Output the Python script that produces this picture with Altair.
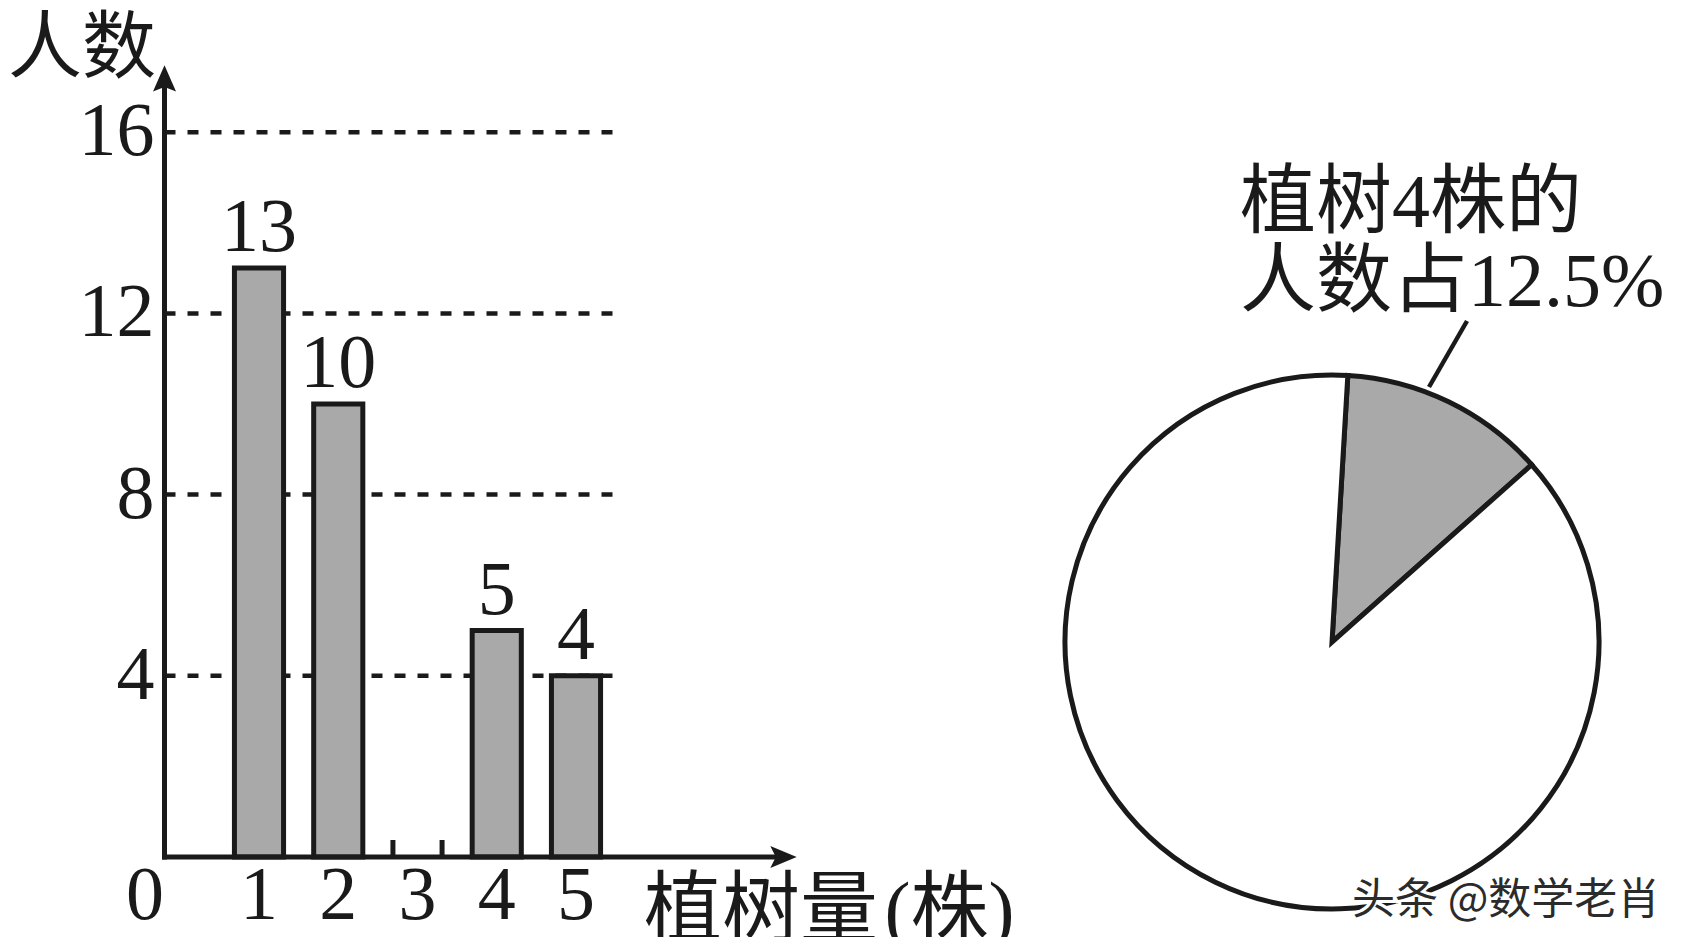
import math
import altair as alt
import pandas as pd

# ---------------- data ----------------
trees = [1, 2, 3, 4, 5]            # 植树量(株)
people = [13, 10, 0, 5, 4]         # 人数
tick_values = [4, 8, 12, 16]
tick_labels = ["1", "2", "3", "4", "5"]
origin_label = "0"
y_title = "人数"
x_title = "植树量\u200a(株)"
pie_parts = ["植树4株", "其他"]
pie_share = [12.5, 87.5]
pie_note = "植树4株的\n人数占12.5%"
watermark = "头条 @数学老肖"

# ---------------- style / layout ----------------
INK = "#1a1a1a"
GRAY = "#a9a9a9"
W, H = 1670, 929
X0, XU = 171.75, 79.25      # pixel of x=0, pixels per unit
Y0, YU = 849.0, 45.3        # pixel of y=0, pixels per unit
X_SCALE = alt.Scale(domain=[-X0 / XU, (W - X0) / XU], nice=False, zero=False)
Y_SCALE = alt.Scale(domain=[(Y0 - H) / YU, Y0 / YU], nice=False, zero=False)
AX = -0.1924        # position of the vertical axis (x units)
X_TIP = 7.785       # end of horizontal axis arrow (x units)
Y_TIP = 17.48       # end of vertical axis arrow (y units)
HW = 0.31           # half bar width
STUB = 0.375        # height of empty-bar stubs
GRID_END = 5.55
SERIF = "Liberation Serif"
MIXED = "Liberation Serif, Noto Sans CJK SC"
CJK = "Noto Sans CJK SC"
START = math.radians(3.4)


def X(f):
    return alt.X(f, scale=X_SCALE, axis=None)


def Y(f):
    return alt.Y(f, scale=Y_SCALE, axis=None)


bars_df = pd.DataFrame({"tree": trees, "people": people})
bars_df["lo"] = bars_df["tree"] - HW
bars_df["hi"] = bars_df["tree"] + HW
bars_df["zero"] = 0.0

stub_rows = []
for t, p in zip(trees, people):
    if p == 0:
        stub_rows.append({"x": t - HW, "y0": 0.0, "y1": STUB})
        stub_rows.append({"x": t + HW, "y0": 0.0, "y1": STUB})
stubs_df = pd.DataFrame(stub_rows)

grid = alt.Chart(pd.DataFrame({"tick": tick_values, "x0": AX, "x1": GRID_END})).mark_rule(
    color=INK, strokeWidth=4.5, strokeDash=[11, 12]
).encode(x=X("x0:Q"), x2="x1:Q", y=Y("tick:Q"))

bars = alt.Chart(bars_df).transform_filter("datum.people > 0").mark_rect(
    fill=GRAY, stroke=INK, strokeWidth=5
).encode(x=X("lo:Q"), x2="hi:Q", y=Y("people:Q"), y2="zero:Q")

stubs = alt.Chart(stubs_df).mark_rule(color=INK, strokeWidth=5).encode(
    x=X("x:Q"), y=Y("y0:Q"), y2="y1:Q"
)

axes = alt.Chart(pd.DataFrame({
    "x": [AX, AX], "x2": [AX, X_TIP - 0.15], "y": [0.0, 0.0], "y2": [Y_TIP - 0.3, 0.0]
})).mark_rule(color=INK, strokeWidth=5, strokeCap="square").encode(
    x=X("x:Q"), x2="x2:Q", y=Y("y:Q"), y2="y2:Q"
)

arrow_up = alt.Chart(pd.DataFrame({"x": [AX], "y": [Y_TIP]})).mark_point(
    shape="M0,0L-1,2.3L0,1.9L1,2.3Z", filled=True, size=529, color=INK, opacity=1, strokeWidth=0
).encode(x=X("x:Q"), y=Y("y:Q"))

arrow_right = alt.Chart(pd.DataFrame({"x": [X_TIP], "y": [0.0]})).mark_point(
    shape="M0,0L-2.4,-1L-1.9,0L-2.4,1Z", filled=True, size=484, color=INK, opacity=1, strokeWidth=0
).encode(x=X("x:Q"), y=Y("y:Q"))

values = alt.Chart(bars_df).transform_filter("datum.people > 0").mark_text(
    font=SERIF, fontSize=76, color=INK, baseline="alphabetic", dy=-17
).encode(x=X("tree:Q"), y=Y("people:Q"), text="people:Q")

yticks = alt.Chart(pd.DataFrame({"tick": tick_values, "ax": AX})).mark_text(
    font=SERIF, fontSize=76, color=INK, align="right", baseline="middle", dx=-10, dy=0
).encode(x=X("ax:Q"), y=Y("tick:Q"), text="tick:Q")

xticks = alt.Chart(pd.DataFrame({"tree": trees, "lab": tick_labels, "zero": 0.0})).mark_text(
    font=SERIF, fontSize=76, color=INK, align="center", baseline="middle", dy=39
).encode(x=X("tree:Q"), y=Y("zero:Q"), text="lab:N")

origin = alt.Chart(pd.DataFrame({"ax": [AX], "zero": [0.0], "lab": [origin_label]})).mark_text(
    font=SERIF, fontSize=76, color=INK, align="center", baseline="middle", dx=-19.5, dy=39
).encode(x=X("ax:Q"), y=Y("zero:Q"), text="lab:N")

ytitle = alt.Chart(pd.DataFrame({"t": [y_title]})).mark_text(
    font=CJK, fontSize=74, color=INK, align="left", baseline="alphabetic"
).encode(x=alt.value(0), y=alt.value(64), text="t:N")

xtitle = alt.Chart(pd.DataFrame({"t": [x_title]})).mark_text(
    font=MIXED, fontSize=78, color=INK, align="left", baseline="alphabetic"
).encode(x=alt.value(636), y=alt.value(928), text="t:N")

pie_df = pd.DataFrame({"part": pie_parts, "share": pie_share, "idx": [0, 1]})
pie = alt.Chart(pie_df).mark_arc(stroke=INK, strokeWidth=5, outerRadius=267, opacity=1).encode(
    theta=alt.Theta("share:Q", stack=True, scale=alt.Scale(range=[START, START + 2 * math.pi])),
    color=alt.Color("part:N", scale=alt.Scale(domain=pie_parts, range=[GRAY, "#ffffff"]), legend=None),
    order=alt.Order("idx:Q"),
    x=alt.value(1324),
    y=alt.value(634),
)

leader = alt.Chart(pd.DataFrame({"k": [0]})).mark_rule(color=INK, strokeWidth=4.5).encode(
    x=alt.value(1459), y=alt.value(313), x2=alt.value(1421), y2=alt.value(379)
)

note = alt.Chart(pd.DataFrame({"t": [pie_note]})).mark_text(
    font=MIXED, fontSize=76, color=INK, align="left", baseline="alphabetic",
    lineBreak="\n", lineHeight=79
).encode(x=alt.value(1232), y=alt.value(219), text="t:N")

wm_halo = alt.Chart(pd.DataFrame({"t": [watermark]})).mark_text(
    font=CJK, fontSize=43, color="#ffffff", stroke="#ffffff", strokeWidth=6,
    align="left", baseline="alphabetic"
).encode(x=alt.value(1344), y=alt.value(906), text="t:N")

wm = alt.Chart(pd.DataFrame({"t": [watermark]})).mark_text(
    font=CJK, fontSize=43, color="#2b2b2b", align="left", baseline="alphabetic"
).encode(x=alt.value(1344), y=alt.value(906), text="t:N")

chart = alt.layer(
    grid, bars, stubs, axes, arrow_up, arrow_right, values, yticks, xticks, origin,
    ytitle, xtitle, pie, leader, note, wm_halo, wm
).properties(
    width=W, height=H, autosize=alt.AutoSizeParams(type="none"), padding=0, background="white"
).configure_view(stroke=None)

chart.save("out.html", embed_options={"renderer": "svg", "actions": False})
